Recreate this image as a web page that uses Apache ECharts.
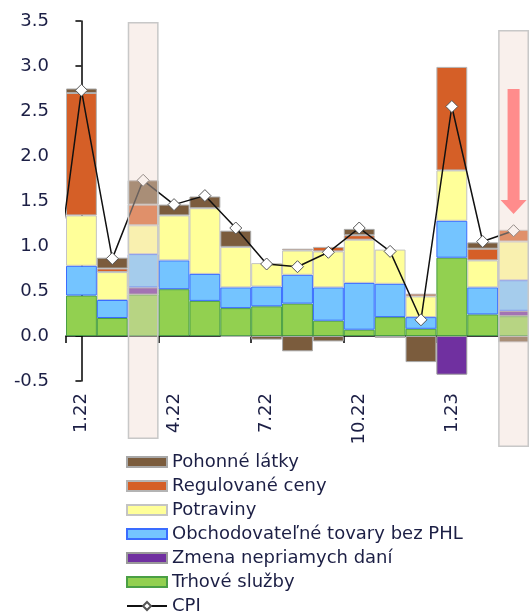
<!DOCTYPE html>
<html><head><meta charset="utf-8">
<script src="https://cdn.jsdelivr.net/npm/echarts@6/dist/echarts.min.js"></script>
<style>html,body{margin:0;padding:0;background:#fff}#c{width:529px;height:616px}</style>
</head><body><div id="c"></div>
<script>
// ---- data ----
const months = ['1.22','2.22','3.22','4.22','5.22','6.22','7.22','8.22','9.22','10.22','11.22','12.22','1.23','2.23','3.23'];
const trhoveSluzby   = [0.45, 0.20, 0.46, 0.52, 0.39, 0.31, 0.33, 0.36, 0.17, 0.07, 0.21, 0.08, 0.87, 0.24, 0.22];
const zmenaDani      = [0, 0, 0.08, 0, 0, 0, 0, 0, 0, 0, 0, 0, -0.43, 0, 0.06];
const obchodovatelne = [0.33, 0.20, 0.37, 0.32, 0.30, 0.23, 0.22, 0.32, 0.37, 0.52, 0.37, 0.13, 0.41, 0.30, 0.34];
const potraviny      = [0.56, 0.31, 0.32, 0.50, 0.73, 0.45, 0.26, 0.27, 0.40, 0.48, 0.38, 0.23, 0.56, 0.30, 0.43];
const regulovane     = [1.36, 0.04, 0.23, 0, 0, -0.01, 0, 0.02, 0.05, 0.05, 0, 0.03, 1.15, 0.13, 0.13];
const pohonne        = [0.05, 0.12, 0.27, 0.12, 0.13, 0.18, -0.04, -0.17, -0.06, 0.07, -0.02, -0.29, 0, 0.07, -0.07];
const cpi            = [2.73, 0.86, 1.73, 1.46, 1.56, 1.20, 0.80, 0.77, 0.93, 1.20, 0.94, 0.18, 2.55, 1.05, 1.17];
const cpiPrevMonth   = 0.15; // 12.21, only the entering segment is visible
const yTicks = { min: -0.5, max: 3.5, step: 0.5 };
const highlighted = ['3.22', '3.23'];
const arrowMonth = '3.23';
const arrowCenterValue = 2.05;

// ---- chart ----
const FONT = 'DejaVu Sans';
const TXT = '#1c1f45';
const chart = echarts.init(document.getElementById('c'), null, { renderer: 'canvas' });

function barSeries(name, data, color, border) {
  return {
    name, type: 'bar', stack: 'total', xAxisIndex: 0, yAxisIndex: 0,
    barWidth: '100%', z: 2,
    data: data.map(v => (v === 0 ? '-' : v)),
    itemStyle: { color, borderColor: border, borderWidth: 1 }
  };
}

const hlOffset = { '3.22': 0.019, '3.23': 0 };
const hlBase = months.map(m => (highlighted.includes(m) ? hlOffset[m] : '-'));
const hlHeight = months.map(m => (highlighted.includes(m) ? 0.981 : '-'));

const option = {
  animation: false,
  textStyle: { fontFamily: FONT },
  grid: [
    { left: 66, top: 21, width: 470, height: 360 },
    { left: 66, top: 22, width: 470, height: 425 }
  ],
  xAxis: [
    { type: 'category', gridIndex: 0, data: months, position: 'bottom',
      axisLine: { onZero: true, lineStyle: { color: '#000', width: 1.5 } },
      axisTick: { show: true, interval: 2, length: 7, lineStyle: { color: '#000', width: 1.5 } },
      axisLabel: { show: false } },
    { type: 'category', gridIndex: 0, data: months, position: 'bottom',
      axisLine: { show: false, onZero: false }, axisTick: { show: false },
      axisLabel: { show: true, interval: 2, rotate: 90, margin: 12, fontSize: 18, color: TXT, fontFamily: FONT } },
    { type: 'value', gridIndex: 0, min: -0.5, max: months.length - 0.5, show: false, position: 'top' },
    { type: 'category', gridIndex: 1, data: months, show: false }
  ],
  yAxis: [
    { type: 'value', gridIndex: 0, min: yTicks.min, max: yTicks.max, interval: yTicks.step,
      axisLine: { show: true, lineStyle: { color: '#000', width: 1.5 } },
      axisTick: { show: true, length: 6, lineStyle: { color: '#000', width: 1.5 } },
      splitLine: { show: false },
      axisLabel: { formatter: v => v.toFixed(1), fontSize: 18, color: TXT, fontFamily: FONT, margin: 17 } },
    { type: 'value', gridIndex: 1, min: 0, max: 1, show: false }
  ],
  legend: {
    orient: 'vertical', left: 126, top: 452, height: 220, width: 400, padding: 0,
    itemWidth: 40, itemHeight: 10, itemGap: 4,
    textStyle: { fontSize: 18, lineHeight: 20, color: TXT, fontFamily: FONT },
    data: [
      { name: 'Pohonné látky', icon: 'rect' },
      { name: 'Regulované ceny', icon: 'rect' },
      { name: 'Potraviny', icon: 'rect' },
      { name: 'Obchodovateľné tovary bez PHL', icon: 'rect' },
      { name: 'Zmena nepriamych daní', icon: 'rect' },
      { name: 'Trhové služby', icon: 'rect' },
      { name: 'CPI' }
    ]
  },
  series: [
    barSeries('Trhové služby', trhoveSluzby, '#92d050', '#4a9f45'),
    barSeries('Zmena nepriamych daní', zmenaDani, '#7030a0', '#9a9a9a'),
    barSeries('Obchodovateľné tovary bez PHL', obchodovatelne, '#74c4ff', '#3a6cff'),
    barSeries('Potraviny', potraviny, '#ffff99', '#c4c4c4'),
    barSeries('Regulované ceny', regulovane, '#d55f27', '#b4b4b4'),
    barSeries('Pohonné látky', pohonne, '#7b5c3d', '#a8a8a8'),
    {
      name: 'CPI', type: 'line', xAxisIndex: 2, yAxisIndex: 0, z: 3, clip: true,
      data: [[-1, cpiPrevMonth]].concat(cpi.map((v, i) => [i, v])),
      symbol: 'diamond', symbolSize: 12, showAllSymbol: true,
      lineStyle: { color: '#111', width: 1.5 },
      itemStyle: { color: '#fff', borderColor: '#555', borderWidth: 1 },
      markPoint: {
        silent: true, z: 6,
        symbol: 'path://M7,0L19,0L19,111L26,111L13,125L0,111L7,111Z',
        symbolSize: [26, 125],
        itemStyle: { color: '#ff8c8c' },
        label: { show: false },
        data: [{ coord: [months.indexOf(arrowMonth), arrowCenterValue] }]
      }
    },
    { name: 'hlBase', type: 'bar', stack: 'hl', xAxisIndex: 3, yAxisIndex: 1, barWidth: '100%', z: 4, silent: true,
      data: hlBase, itemStyle: { color: 'rgba(0,0,0,0)', borderWidth: 0 } },
    { name: 'hlBox', type: 'bar', stack: 'hl', xAxisIndex: 3, yAxisIndex: 1, barWidth: '100%', z: 4, silent: true,
      data: hlHeight, itemStyle: { color: 'rgba(240,218,208,0.4)', borderColor: '#c8c8c8', borderWidth: 1.5 } }
  ]
};
chart.setOption(option);
</script>
</body></html>
